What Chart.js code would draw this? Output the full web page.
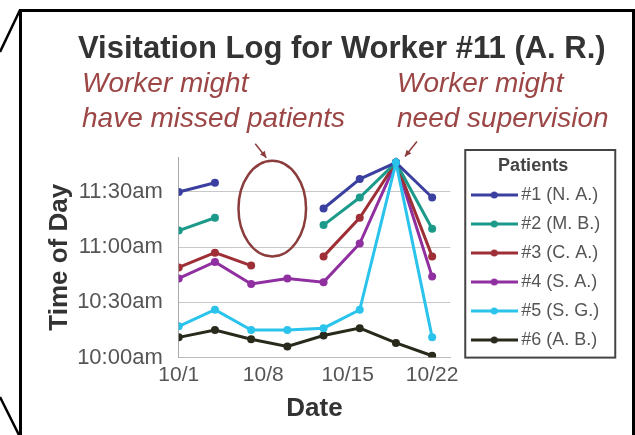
<!DOCTYPE html>
<html>
<head>
<meta charset="utf-8">
<title>Visitation Log for Worker #11</title>
<script src="https://cdn.jsdelivr.net/npm/chart.js@4.4.1/dist/chart.umd.min.js"></script>
<style>
  html, body { margin: 0; padding: 0; background: #fff; }
  canvas { display: block; }
</style>
</head>
<body>
<canvas id="visitChart" width="635" height="435"></canvas>
<script>
// days of October with a visit
const visitDays = [1, 4, 7, 10, 13, 16, 19, 22];

// visit time in minutes after 10:00am, null = no visit logged
const patient1 = [90, 95, null, null, 81, 97, 106, 87];
const patient2 = [69, 76, null, null, 72, 87, 106, 70];
const patient3 = [49, 57, 50, null, 55, 76, 106, 55];
const patient4 = [43, 52, 40, 43, 41, 62, 106, 44];
const patient5 = [17, 26, 15, 15, 16, 26, 106, 11];
const patient6 = [11, 15, 10, 6, 12, 16, 8, 1];

const patientNames = ['#1 (N. A.)', '#2 (M. B.)', '#3 (C. A.)', '#4 (S. A.)', '#5 (S. G.)', '#6 (A. B.)'];
const patientColors = ['#3b3f9f', '#1b9a8a', '#9e2f36', '#8f2fa0', '#2ac3ec', '#2a2a1c'];

const dateTicks = [1, 8, 15, 22];
const dateLabels = ['10/1', '10/8', '10/15', '10/22'];
const timeTicks = [0, 30, 60, 90];

const chartTitle = 'Visitation Log for Worker #11 (A. R.)';
const noteMissed = ['Worker might', 'have missed patients'];
const noteSupervision = ['Worker might', 'need supervision'];

const FONT = "'Liberation Sans', Arial, sans-serif";
Chart.defaults.font.family = FONT;

function timeLabel(minutes) {
    const h = 10 + Math.floor(minutes / 60);
    const m = minutes % 60;
    return h + ':' + String(m).padStart(2, '0') + 'am';
}

// little line-with-dot swatch for the legend
function legendSample(color) {
    const c = document.createElement('canvas');
    c.width = 47;
    c.height = 10;
    const g = c.getContext('2d');
    g.strokeStyle = color;
    g.lineWidth = 3;
    g.beginPath();
    g.moveTo(0, 5);
    g.lineTo(47, 5);
    g.stroke();
    g.fillStyle = color;
    g.beginPath();
    g.arc(23.5, 5, 3.5, 0, Math.PI * 2);
    g.fill();
    return c;
}
const legendSamples = patientColors.map(legendSample);

function arrow(ctx, x0, y0, x1, y1) {
    const a = Math.atan2(y1 - y0, x1 - x0);
    ctx.beginPath();
    ctx.moveTo(x0, y0);
    ctx.lineTo(x1, y1);
    ctx.stroke();
    ctx.beginPath();
    ctx.moveTo(x1, y1);
    ctx.lineTo(x1 - 7 * Math.cos(a - 0.45), y1 - 7 * Math.sin(a - 0.45));
    ctx.lineTo(x1 - 7 * Math.cos(a + 0.45), y1 - 7 * Math.sin(a + 0.45));
    ctx.closePath();
    ctx.fill();
}

// callout frame around the chart
const framePlugin = {
    id: 'frame',
    beforeDraw(chart) {
        const ctx = chart.ctx;
        ctx.save();
        ctx.fillStyle = '#fff';
        ctx.fillRect(0, 0, chart.width, chart.height);
        ctx.strokeStyle = '#000';
        ctx.lineWidth = 3;
        ctx.beginPath();
        ctx.moveTo(20.5, chart.height);
        ctx.lineTo(20.5, 10.5);
        ctx.lineTo(633.5, 10.5);
        ctx.lineTo(633.5, chart.height);
        ctx.stroke();
        ctx.lineWidth = 2.5;
        ctx.beginPath();
        ctx.moveTo(0, 52);
        ctx.lineTo(20, 10);
        ctx.moveTo(0, 397);
        ctx.lineTo(19, 435);
        ctx.stroke();
        ctx.restore();
    }
};

// move the legend off the plot a bit and box it
const legendBoxPlugin = {
    id: 'legendBox',
    afterLayout(chart) {
        const lg = chart.legend;
        lg.left = chart.chartArea.right + 15;
        lg.right = lg.left + lg.width;
    },
    afterDraw(chart) {
        const ctx = chart.ctx;
        const lg = chart.legend;
        const area = chart.chartArea;
        ctx.save();
        ctx.strokeStyle = '#444';
        ctx.lineWidth = 2;
        ctx.strokeRect(lg.left, area.top - 7, 150, area.bottom - area.top + 7);
        ctx.restore();
    }
};

// title, notes, circle and arrows
const notesPlugin = {
    id: 'notes',
    afterDraw(chart) {
        const ctx = chart.ctx;
        const x = chart.scales.x;
        const y = chart.scales.y;
        ctx.save();
        ctx.textAlign = 'left';
        ctx.textBaseline = 'alphabetic';
        ctx.fillStyle = '#333';
        ctx.font = 'bold 31px ' + FONT;
        ctx.fillText(chartTitle, 78, 58);

        ctx.fillStyle = '#9c4646';
        ctx.font = 'italic 28px ' + FONT;
        ctx.fillText(noteMissed[0], 82, 92);
        ctx.fillText(noteMissed[1], 82, 127);
        ctx.fillText(noteSupervision[0], 397, 92);
        ctx.fillText(noteSupervision[1], 397, 127);

        // empty stretch where visits are missing
        const cx = x.getPixelForValue(8.75);
        const cy = y.getPixelForValue(81);
        const rx = x.getPixelForValue(8.75 + 2.8) - cx;
        const ry = cy - y.getPixelForValue(81 + 26);
        ctx.strokeStyle = '#8b3c3c';
        ctx.fillStyle = '#8b3c3c';
        ctx.lineWidth = 2.5;
        ctx.beginPath();
        ctx.ellipse(cx, cy, rx, ry, 0, 0, Math.PI * 2);
        ctx.stroke();

        ctx.lineWidth = 1.5;
        arrow(ctx, cx - 17, cy - ry - 17, cx - 6, cy - ry - 3);
        const px = x.getPixelForValue(19);
        const py = y.getPixelForValue(106);
        arrow(ctx, px + 21, py - 21, px + 9, py - 6);
        ctx.restore();
    }
};

const series = [patient1, patient2, patient3, patient4, patient5, patient6];

new Chart(document.getElementById('visitChart'), {
    type: 'line',
    data: {
        datasets: series.map((vals, i) => ({
            label: patientNames[i],
            data: vals.map((v, j) => ({ x: visitDays[j], y: v })),
            borderColor: patientColors[i],
            backgroundColor: patientColors[i],
            borderWidth: 3,
            pointRadius: 4,
            pointBorderWidth: 0,
            pointHoverRadius: 4,
            tension: 0,
            order: i === 4 ? -1 : 0
        }))
    },
    options: {
        responsive: false,
        animation: false,
        layout: { padding: { top: 157, left: 43, right: 49, bottom: 8 } },
        scales: {
            x: {
                type: 'linear',
                min: 1,
                max: 23.5,
                afterBuildTicks: s => { s.ticks = dateTicks.map(v => ({ value: v })); },
                ticks: {
                    callback: v => dateLabels[dateTicks.indexOf(v)],
                    font: { size: 21 },
                    color: '#555',
                    padding: 5,
                    maxRotation: 0,
                    autoSkip: false
                },
                grid: { display: false, drawTicks: false },
                border: { display: true, color: '#bbb' },
                title: {
                    display: true,
                    text: 'Date',
                    font: { size: 26, weight: 'bold' },
                    color: '#333',
                    padding: { top: 0, bottom: 3 }
                }
            },
            y: {
                type: 'linear',
                min: 0,
                max: 109,
                afterBuildTicks: s => { s.ticks = timeTicks.map(v => ({ value: v })); },
                ticks: {
                    callback: v => timeLabel(v),
                    font: { size: 22 },
                    color: '#555',
                    padding: 16
                },
                grid: { color: '#c8c8c8', drawTicks: false },
                border: { color: '#aaa' },
                title: {
                    display: true,
                    text: 'Time of Day',
                    font: { size: 26, weight: 'bold' },
                    color: '#333',
                    padding: { top: 1, bottom: 13 }
                }
            }
        },
        plugins: {
            tooltip: { enabled: false },
            legend: {
                position: 'right',
                align: 'start',
                title: {
                    display: true,
                    text: 'Patients',
                    font: { size: 18, weight: 'bold', lineHeight: 1 },
                    color: '#444',
                    padding: 0
                },
                labels: {
                    usePointStyle: true,
                    pointStyleWidth: 36,
                    padding: 11,
                    font: { size: 18 },
                    color: '#555',
                    sort: (a, b) => a.datasetIndex - b.datasetIndex,
                    generateLabels(chart) {
                        const items = Chart.defaults.plugins.legend.labels.generateLabels(chart);
                        items.forEach(item => { item.pointStyle = legendSamples[item.datasetIndex]; });
                        return items;
                    }
                }
            }
        }
    },
    plugins: [framePlugin, legendBoxPlugin, notesPlugin]
});
</script>
</body>
</html>
